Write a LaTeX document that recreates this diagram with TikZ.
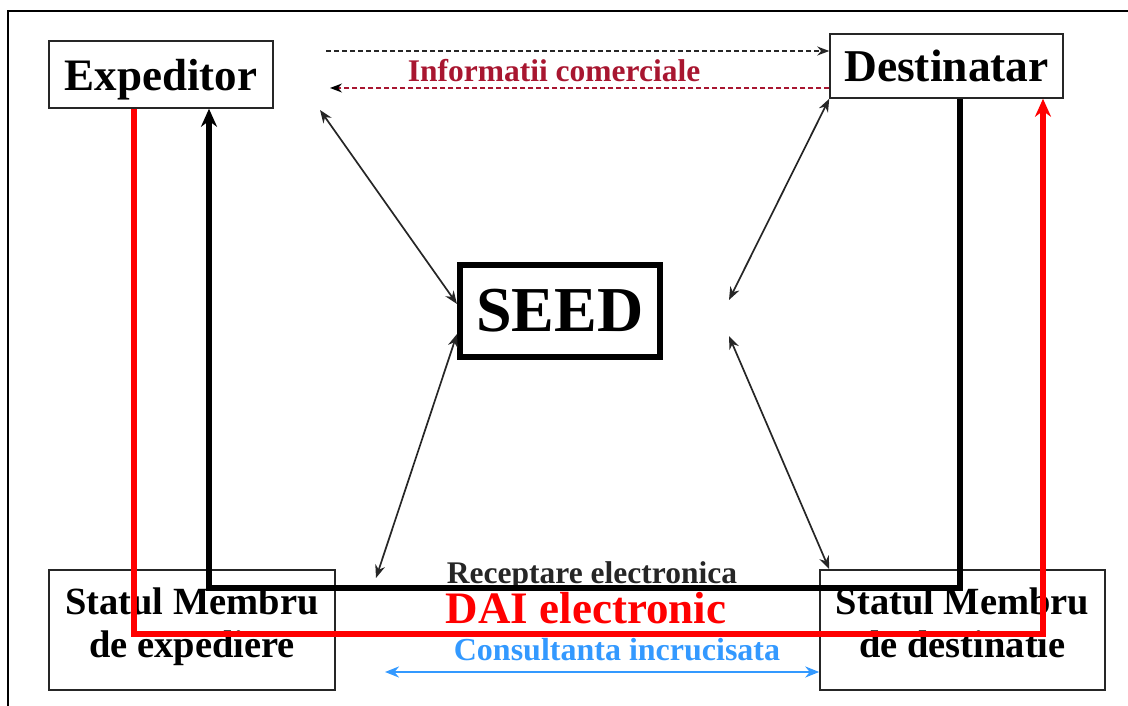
\documentclass[tikz,border=0pt]{standalone}
\usepackage{fontspec}
\setmainfont{Liberation Serif}
\usepackage{xcolor}
\usepackage{tikz}
\usetikzlibrary{positioning}
\usetikzlibrary{calc}
\usetikzlibrary{arrows.meta}

\definecolor{infored}{RGB}{168,22,48}
\definecolor{daired}{RGB}{255,0,0}
\definecolor{consblue}{RGB}{51,153,255}

\tikzset{
  box/.style={draw=black!85,line width=1.5pt,inner sep=0pt},
  thinarrow/.style={draw=black!85,line width=1.7pt,{Stealth[length=13pt,width=10pt]}-{Stealth[length=13pt,width=10pt]}},
  flowline/.style={line width=6pt,-{Stealth[length=18pt,width=16pt]}},
}

\begin{document}
\begin{tikzpicture}[x=1pt,y=-1pt]

\useasboundingbox (0,0) rectangle (1128,706);
\draw[line width=2pt] (8,706) -- (8,11) -- (1128,11);

%BOXES
\node[box,minimum width=224pt,minimum height=67pt,text depth=0pt,font=\fontsize{45}{48}\selectfont\bfseries](EXP)at(161,74.5){Expeditor};
\node[box,minimum width=233pt,minimum height=64pt,font=\fontsize{45.5}{48}\selectfont\bfseries](DST)at(946.5,66){Destinatar};
\node[draw=black,line width=6pt,minimum width=200pt,minimum height=92pt,inner sep=0pt,font=\fontsize{64}{68}\selectfont\bfseries](SEED)at(560,311){SEED};
\node[box,minimum width=286pt,minimum height=120pt](SMX)at(192,630){};
\node[box,minimum width=285pt,minimum height=120pt](SMD)at(962.5,630){};

%LABELs
\node[anchor=north,align=center,inner sep=0pt,font=\fontsize{38.5}{43}\selectfont\bfseries](SMX-label)at(192,588){Statul Membru\\de expediere};
\node[anchor=north,align=center,inner sep=0pt,font=\fontsize{38.5}{43}\selectfont\bfseries](SMD-label)at(962.5,588){Statul Membru\\de destinatie};
\node[anchor=base,inner sep=0pt,text=infored,font=\fontsize{31.5}{34}\selectfont\bfseries](IC-label)at(554,82){Informatii comerciale};
\node[anchor=base,inner sep=0pt,text=black!85,font=\fontsize{31.5}{34}\selectfont\bfseries](RE-label)at(592,583){Receptare electronica};
\node[anchor=base,inner sep=0pt,text=daired,font=\fontsize{45}{48}\selectfont\bfseries](DAI-label)at(586,623){DAI electronic};
\node[anchor=base,inner sep=0pt,text=consblue,font=\fontsize{32}{34}\selectfont\bfseries](CI-label)at(617,660){Consultanta incrucisata};

%Informatii comerciale
\coordinate (ic-w) at (326,51);
\coordinate (ic-r) at (330,88);
\draw[draw=black!85,line width=1.5pt,dash pattern=on 5pt off 3pt,-{Stealth[length=12pt,width=9pt]}] (ic-w) -- (ic-w -| DST.west);
\draw[draw=infored,line width=1.5pt,dash pattern=on 5pt off 3pt,-{Stealth[length=12pt,width=9pt,black]}] (DST.west |- ic-r) -- (ic-r);

%SEED links
\coordinate (d1) at (320,110);
\coordinate (d2) at (729,300);
\coordinate (d3) at (376,578);
\coordinate (d4) at (729,336);
\draw[thinarrow] (d1) -- ([yshift=7pt]SEED.west);
\draw[thinarrow] (DST.south west) -- (d2);
\draw[thinarrow] ([yshift=-23pt]SEED.west) -- (d3);
\draw[thinarrow] (d4) -- ([xshift=10pt]SMD.north west);

%Receptare electronica
\coordinate (blk-se) at (960,588);
\coordinate (blk-sw) at (209,588);
\draw[flowline,draw=black] (DST.south -| blk-se) -- (blk-se) -- (blk-sw) -- (EXP.south -| blk-sw);

%DAI electronic
\coordinate (red-sw) at (134,634);
\coordinate (red-se) at (1043,634);
\draw[flowline,draw=daired] (EXP.south -| red-sw) -- (red-sw) -- (red-se) -- (DST.south -| red-se);

%Consultanta incrucisata
\coordinate (ci-w) at (385,672);
\draw[draw=consblue,line width=2.2pt,{Stealth[length=14pt,width=11pt]}-{Stealth[length=14pt,width=11pt]}] (ci-w) -- (ci-w -| SMD.west);

\end{tikzpicture}
\end{document}
